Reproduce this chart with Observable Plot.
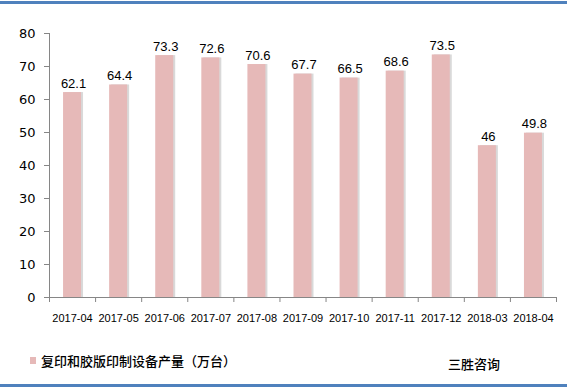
<!DOCTYPE html>
<html><head><meta charset="utf-8">
<script src="https://cdn.jsdelivr.net/npm/d3@7"></script>
<script src="https://cdn.jsdelivr.net/npm/@observablehq/plot@0.6"></script>
<style>
html,body{margin:0;padding:0;background:#fff;}
#wrap{position:relative;width:567px;height:389px;overflow:hidden;background:#fff;}
#topline{position:absolute;left:0;top:1px;width:567px;height:3px;background:#4f81bd;}
#botline{position:absolute;left:0;top:384px;width:567px;height:3px;background:#4f81bd;}
#chart{position:absolute;left:0;top:0;}
#legend{position:absolute;left:30px;top:351px;font:500 13px "Noto Sans CJK SC",sans-serif;color:#000;display:flex;align-items:center;}
#legend .sw{width:6px;height:7px;background:#e6b9b8;margin-right:5px;}
#brand{position:absolute;left:448px;top:354px;font:500 13px "Noto Sans CJK SC",sans-serif;color:#000;}
</style></head>
<body>
<div id="wrap">
<div id="topline"></div>
<div id="chart"></div>
<div id="legend"><span class="sw"></span><span id="legtext"></span></div>
<div id="brand"></div>
<div id="botline"></div>
</div>
<script>
const categories = ["2017-04","2017-05","2017-06","2017-07","2017-08","2017-09","2017-10","2017-11","2017-12","2018-03","2018-04"];
const values = [62.1,64.4,73.3,72.6,70.6,67.7,66.5,68.6,73.5,46,49.8];
const yTicks = [0,10,20,30,40,50,60,70,80];
const seriesName = "复印和胶版印制设备产量（万台）";
const brandText = "三胜咨询";

const data = categories.map((c,i)=>({cat:c, v:values[i]}));
document.getElementById("legtext").textContent = seriesName;
document.getElementById("brand").textContent = brandText;

const W = 567, H = 340, mL = 49, mR = 11;
const bw = (W - mL - mR) / categories.length;
const barInset = (bw - 18) / 2;
const yMax = yTicks[yTicks.length - 1];

const chart = Plot.plot({
  width: W, height: H,
  marginLeft: mL, marginRight: mR, marginTop: 33, marginBottom: 43,
  style: {fontFamily: "'Liberation Sans', Arial, sans-serif", background: "transparent", color: "#000"},
  x: {domain: categories, padding: 0, round: false, label: null},
  y: {domain: [0, yMax], label: null},
  marks: [
    Plot.barY(data, {x: "cat", y: "v", fill: "#d9d9d9", insetLeft: barInset, insetRight: barInset, dx: 2}),
    Plot.barY(data, {x: "cat", y: "v", fill: "#e6b9b8", insetLeft: barInset, insetRight: barInset}),
    Plot.text(data, {x: "cat", y: "v", text: d => String(d.v), dy: -9, dx: 1, fontSize: 13, fill: "#000", fontFamily: "'Liberation Sans', Arial, sans-serif"}),
    Plot.axisY({ticks: yTicks, tickSize: 5, tickPadding: 9, stroke: "#868686", fontSize: 13, fill: "#000", fontFamily: "'DejaVu Sans', sans-serif"}),
    Plot.axisX({tickSize: 0, tickPadding: 17, fontSize: 11, fill: "#000"}),
    // y axis line at left boundary of first category
    Plot.ruleX([categories[0]], {x: d => d, y1: 0, y2: yMax, stroke: "#868686", strokeWidth: 1, dx: -bw/2}),
    // x axis ticks at category boundaries
    Plot.tickX(categories, {x: d => d, stroke: "#868686", dx: -bw/2}),
    Plot.tickX([categories[categories.length-1]], {x: d => d, stroke: "#868686", dx: bw/2}),
    Plot.ruleY([0], {stroke: "#868686"})
  ]
});
document.getElementById("chart").appendChild(chart);

chart.querySelectorAll("g[aria-label='tick'] line").forEach(l => {
  const y1 = +l.getAttribute("y1"), y2 = +l.getAttribute("y2");
  const base = Math.max(y1, y2);
  l.setAttribute("y1", base); l.setAttribute("y2", base + 5);
});
</script>
</body></html>
